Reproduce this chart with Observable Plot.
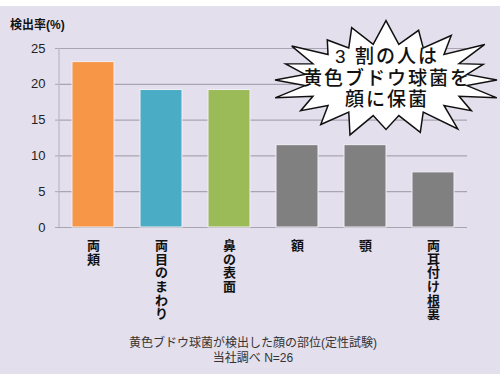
<!DOCTYPE html>
<html><head><meta charset="utf-8">
<script src="https://cdn.jsdelivr.net/npm/d3@7"></script>
<script src="https://cdn.jsdelivr.net/npm/@observablehq/plot@0.6"></script>
<style>
body{margin:0;background:#fff;}
#chart svg{display:block;}
</style>
</head><body><div id="chart"></div>
<script>
const categories = ["両頬", "両目のまわり", "鼻の表面", "額", "顎", "両耳付け根裏"];
const values = [23.1, 19.2, 19.2, 11.5, 11.5, 7.7];
const colors = ["#f79646", "#4bacc6", "#9bbb59", "#808080", "#808080", "#808080"];
const yTicks = [0, 5, 10, 15, 20, 25];
const yLabel = "検出率(%)";
const captionLines = ["黄色ブドウ球菌が検出した顔の部位(定性試験)", "当社調べ N=26"];
const calloutLines = ["3 割の人は", "黄色ブドウ球菌を", "顔に保菌"];

const data = categories.map((c, i) => ({cat: c, v: values[i], color: colors[i]}));
const FONT = '"Liberation Sans","Noto Sans CJK JP",sans-serif';

const W = 503, H = 380;
const chart = Plot.plot({
  width: W, height: H,
  marginLeft: 59, marginRight: 36, marginTop: 48, marginBottom: 153,
  style: {fontFamily: FONT, background: "transparent", overflow: "visible"},
  x: {domain: categories, paddingInner: 0.38, paddingOuter: 0.19, label: null},
  y: {domain: [0, 25], ticks: yTicks, label: null},
  marks: [
    Plot.gridY(yTicks, {stroke: "#a9a5b0", strokeOpacity: 1, strokeWidth: 1.2}),
    Plot.barY(data, {x: "cat", y: "v", fill: "color", stroke: "#f2eef6", strokeWidth: 1}),
    Plot.axisY({ticks: yTicks, tickSize: 4, tickPadding: 10, fontSize: 13, fill: "#222", stroke: "#a9a5b0", label: null}),
    Plot.axisX({tickSize: 0, tickPadding: 13, fontSize: 13, fontWeight: "bold", fill: "#111",
      lineHeight: 1.05, tickFormat: d => d.split("").join("\n"), label: null})
  ]
});

const svg = d3.select(chart);
svg.insert("rect", ":first-child")
  .attr("x", 0).attr("y", 6).attr("width", 500).attr("height", 368).attr("fill", "#e4dfec");
svg.append("line").attr("x1", 59).attr("x2", 59).attr("y1", 48).attr("y2", 227)
  .attr("stroke", "#bdb9c2").attr("stroke-width", 1.2);

svg.append("text").attr("x", 10).attr("y", 29).attr("font-size", 12).attr("font-weight", "bold")
  .attr("text-anchor", "start")
  .attr("fill", "#111").attr("font-family", FONT).text(yLabel);

captionLines.forEach((t, i) => {
  svg.append("text").attr("x", 253).attr("y", 347 + i * 15).attr("text-anchor", "middle")
    .attr("font-size", 12).attr("fill", "#333").attr("font-family", FONT).text(t);
});

// starburst callout
const cx = 386, cy = 80;
const spikes = [1.0, 0.95, 1.05, 0.9, 1.0, 1.08, 0.95, 1.0, 1.1, 0.92, 1.0, 1.05, 0.95, 1.1, 1.0, 0.9, 1.05, 1.0, 0.95, 1.05];
const pts = [];
const n = spikes.length;
for (let i = 0; i < n; i++) {
  const a0 = (i / n) * 2 * Math.PI - Math.PI;
  const a1 = ((i + 0.5) / n) * 2 * Math.PI - Math.PI;
  pts.push([cx + 111 * spikes[i] * Math.cos(a0), cy + 55 * spikes[i] * Math.sin(a0)]);
  pts.push([cx + 82 * Math.cos(a1), cy + 36 * Math.sin(a1)]);
}
svg.append("path").attr("d", d3.line()(pts) + "Z").attr("fill", "#fff")
  .attr("stroke", "#111").attr("stroke-width", 1.5).attr("stroke-linejoin", "miter");
calloutLines.forEach((t, i) => {
  svg.append("text").attr("x", 387).attr("y", 63 + i * 21.5).attr("text-anchor", "middle")
    .attr("font-size", 19).attr("font-weight", 500).attr("letter-spacing", 2)
    .attr("fill", "#111").attr("font-family", FONT).text(t);
});

document.getElementById("chart").appendChild(chart);
</script>
</body></html>
